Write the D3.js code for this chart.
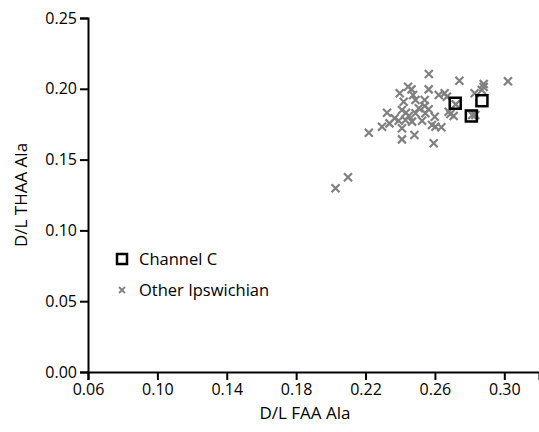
<!DOCTYPE html>
<html>
<head>
<meta charset="utf-8">
<script src="https://cdn.jsdelivr.net/npm/d3@7"></script>
<style>
  body { margin: 0; background: #fff; }
  text { font-family: "Open Sans", "Noto Sans", sans-serif; }
</style>
</head>
<body>
<svg width="539" height="432"></svg>
<script>
// Other Ipswichian samples [FAA, THAA]
const otherFAA = [0.2565, 0.2741, 0.3021, 0.2881, 0.2881, 0.2870, 0.2564, 0.2445, 0.2465, 0.2397,
  0.2474, 0.2622, 0.2656, 0.2829, 0.2669, 0.2420, 0.2488, 0.2541, 0.2541, 0.2410,
  0.2433, 0.2507, 0.2564, 0.2679, 0.2689, 0.2708, 0.2833, 0.2324, 0.2368, 0.2391,
  0.2338, 0.2295, 0.2430, 0.2449, 0.2488, 0.2545, 0.2599, 0.2583, 0.2603, 0.2637,
  0.2410, 0.2219, 0.2410, 0.2482, 0.2593, 0.2468, 0.2526, 0.2099, 0.2027, 0.2720, 0.2815];
const otherTHAA = [0.2105, 0.2057, 0.2053, 0.2034, 0.2013, 0.1992, 0.1996, 0.2015, 0.1996, 0.1968,
  0.1956, 0.1956, 0.1968, 0.1968, 0.1944, 0.1909, 0.1921, 0.1921, 0.1879, 0.1850,
  0.1831, 0.1862, 0.1855, 0.1838, 0.1822, 0.1808, 0.1815, 0.1831, 0.1792, 0.1775,
  0.1756, 0.1732, 0.1780, 0.1808, 0.1827, 0.1827, 0.1803, 0.1744, 0.1732, 0.1728,
  0.1721, 0.1690, 0.1643, 0.1674, 0.1615, 0.1768, 0.1775, 0.1375, 0.1297, 0.1890, 0.1815];

// Channel C samples
const chanFAA = [0.2717, 0.2871, 0.2810];
const chanTHAA = [0.1898, 0.1916, 0.1808];

const xTicks = [0.06, 0.10, 0.14, 0.18, 0.22, 0.26, 0.30];
const yTicks = [0.00, 0.05, 0.10, 0.15, 0.20, 0.25];

const svg = d3.select('svg');
const margin = {top: 18, left: 88, right: 0, bottom: 60};

const xScale = d3.scaleLinear().domain([0.06, 0.32]).range([margin.left, margin.left + 451]);
const yScale = d3.scaleLinear().domain([0, 0.25]).range([372, margin.top]);

const xAxis = d3.axisBottom(xScale)
  .tickValues(xTicks)
  .tickFormat(d3.format('.2f'))
  .tickSizeOuter(0)
  .tickSize(8)
  .tickPadding(4);

const yAxis = d3.axisLeft(yScale)
  .tickValues(yTicks)
  .tickFormat(d3.format('.2f'))
  .tickSizeOuter(0)
  .tickSize(8)
  .tickPadding(3);

const xAxisG = svg.append('g')
  .attr('transform', `translate(0,${yScale(0)})`)
  .call(xAxis);

const yAxisG = svg.append('g')
  .attr('transform', `translate(${margin.left},0)`)
  .call(yAxis);

[xAxisG, yAxisG].forEach(g => {
  g.selectAll('.domain').attr('stroke', '#000').attr('stroke-width', 2);
  g.selectAll('.tick line').attr('stroke', '#000').attr('stroke-width', 2);
  g.selectAll('.tick text').attr('fill', '#000').style('font-size', '16px');
});

svg.append('text')
  .attr('x', 305)
  .attr('y', 419)
  .attr('text-anchor', 'middle')
  .style('font-size', '17px')
  .text('D/L FAA Ala');

svg.append('text')
  .attr('transform', 'translate(27,195) rotate(-90)')
  .attr('text-anchor', 'middle')
  .style('font-size', '17px')
  .text('D/L THAA Ala');

const crossPath = s => `M${-s},${-s}L${s},${s}M${-s},${s}L${s},${-s}`;

const others = d3.zip(otherFAA, otherTHAA);
const chans = d3.zip(chanFAA, chanTHAA);

svg.append('g').selectAll('path')
  .data(others)
  .enter()
  .append('path')
  .attr('transform', d => `translate(${xScale(d[0])},${yScale(d[1])})`)
  .attr('d', crossPath(4))
  .attr('stroke', '#808080')
  .attr('stroke-width', 2.2)
  .attr('fill', 'none');

svg.append('g').selectAll('rect')
  .data(chans)
  .enter()
  .append('rect')
  .attr('x', d => xScale(d[0]) - 5.5)
  .attr('y', d => yScale(d[1]) - 5.5)
  .attr('width', 11)
  .attr('height', 11)
  .attr('fill', 'none')
  .attr('stroke', '#000')
  .attr('stroke-width', 2.5);

// legend
const legend = svg.append('g');
legend.append('rect')
  .attr('x', 117).attr('y', 254).attr('width', 10).attr('height', 10)
  .attr('fill', 'none').attr('stroke', '#000').attr('stroke-width', 2.5);
legend.append('text')
  .attr('x', 139).attr('y', 265)
  .style('font-size', '16.5px')
  .text('Channel C');
legend.append('path')
  .attr('transform', 'translate(122,290)')
  .attr('d', crossPath(3))
  .attr('stroke', '#808080')
  .attr('stroke-width', 1.8);
legend.append('text')
  .attr('x', 139).attr('y', 296)
  .style('font-size', '16.5px')
  .text('Other Ipswichian');
</script>
</body>
</html>
